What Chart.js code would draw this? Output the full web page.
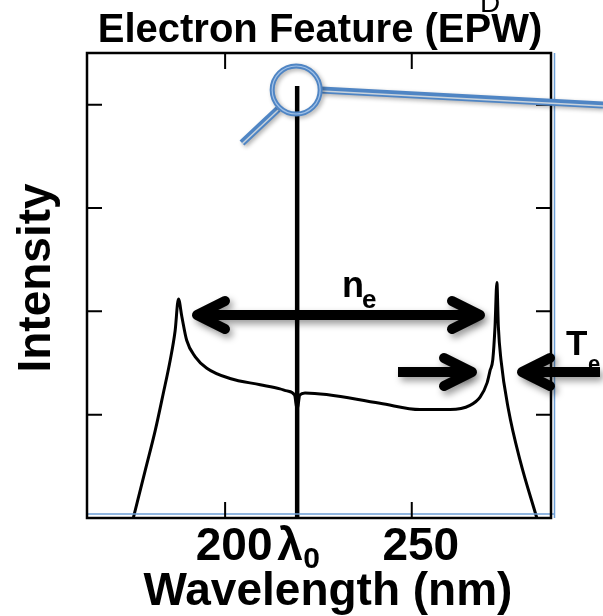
<!DOCTYPE html>
<html>
<head>
<meta charset="utf-8">
<script src="https://cdn.jsdelivr.net/npm/chart.js@4"></script>
<style>
  body { margin: 0; background: #fff; }
  canvas { display: block; }
</style>
</head>
<body>
<canvas id="epwChart" width="603" height="616"></canvas>
<script>
// spectrum (nm, arbitrary intensity)
const curveWavelength = [175.4, 178.6, 181.3, 183.4, 185.3, 186.6, 187.5, 188.4, 189.7, 192.0,
    195.1, 201.3, 209.4, 214.7, 216.6, 218.6, 219.3, 220.0, 221.4, 241.5,
    252.2, 260.3, 265.6, 268.3, 270.2, 271.0, 271.7, 272.3, 272.8, 273.2,
    273.9, 275.9, 279.0, 283.5];
const curveIntensity = [0, 0.46, 0.85, 1.20, 1.53, 1.81, 2.12, 1.95, 1.72, 1.56,
    1.45, 1.35, 1.29, 1.25, 1.23, 1.19, 1.05, 1.19, 1.21, 1.11,
    1.05, 1.05, 1.09, 1.17, 1.31, 1.43, 1.53, 1.85, 2.28, 1.85,
    1.53, 1.05, 0.56, 0];

// laser line at lambda0
const laserWavelength = [219.3, 219.3];
const laserIntensity = [0, 4.18];

const xTickValues = [200, 250];
const yTickValues = [1, 2, 3, 4];

const FONT = '"Liberation Sans", Arial, sans-serif';
const BLUE = '#4f85c4';

function toPoints(xs, ys) {
    return xs.map((x, i) => ({ x: x, y: ys[i] }));
}

function drawArrowHead(ctx, tipX, y, dir) {
    // dir = -1 points left, +1 points right
    ctx.beginPath();
    ctx.moveTo(tipX - dir * 28, y - 14);
    ctx.lineTo(tipX, y);
    ctx.lineTo(tipX - dir * 28, y + 14);
    ctx.stroke();
}

function drawArrow(ctx, x1, x2, y, heads) {
    ctx.save();
    ctx.shadowColor = 'rgba(0,0,0,0.4)';
    ctx.shadowBlur = 7;
    ctx.shadowOffsetX = 3;
    ctx.shadowOffsetY = 4;
    ctx.strokeStyle = '#000';
    ctx.lineWidth = 10;
    ctx.lineJoin = 'round';
    ctx.lineCap = 'butt';
    ctx.beginPath();
    ctx.moveTo(x1 + (heads.left ? 4 : 0), y);
    ctx.lineTo(x2 - (heads.right ? 4 : 0), y);
    ctx.stroke();
    ctx.lineCap = 'round';
    if (heads.left) drawArrowHead(ctx, x1, y, -1);
    if (heads.right) drawArrowHead(ctx, x2, y, 1);
    ctx.restore();
}

function blueStroke(ctx, pts, width) {
    ctx.save();
    ctx.shadowColor = 'rgba(0,0,0,0.3)';
    ctx.shadowBlur = 4;
    ctx.shadowOffsetX = 2;
    ctx.shadowOffsetY = 2;
    ctx.strokeStyle = BLUE;
    ctx.lineWidth = width;
    ctx.lineCap = 'butt';
    ctx.beginPath();
    ctx.moveTo(pts[0], pts[1]);
    ctx.lineTo(pts[2], pts[3]);
    ctx.stroke();
    ctx.restore();
    ctx.save();
    ctx.strokeStyle = '#c9d3dc';
    ctx.lineWidth = 1.5;
    ctx.beginPath();
    ctx.moveTo(pts[0], pts[1] + 1);
    ctx.lineTo(pts[2], pts[3] + 1);
    ctx.stroke();
    ctx.restore();
}

const decorations = {
    id: 'decorations',
    beforeDraw(chart) {
        const ctx = chart.ctx;
        ctx.save();
        ctx.fillStyle = '#fff';
        ctx.fillRect(0, 0, chart.width, chart.height);
        ctx.restore();
    },
    afterDatasetsDraw(chart) {
        const ctx = chart.ctx;
        const area = chart.chartArea;
        const xs = chart.scales.x;
        const ys = chart.scales.y;

        // thin blue edges behind the frame
        ctx.save();
        ctx.strokeStyle = '#6d9fd6';
        ctx.lineWidth = 1.5;
        ctx.beginPath();
        ctx.moveTo(area.right + 3.5, area.top);
        ctx.lineTo(area.right + 3.5, area.bottom);
        ctx.moveTo(area.left, area.bottom - 4);
        ctx.lineTo(area.right + 3.5, area.bottom - 4);
        ctx.stroke();
        ctx.restore();

        // frame + inward ticks
        ctx.save();
        ctx.strokeStyle = '#000';
        ctx.lineWidth = 2.5;
        ctx.strokeRect(area.left, area.top, area.right - area.left, area.bottom - area.top);
        ctx.lineWidth = 2;
        ctx.beginPath();
        xTickValues.forEach(v => {
            const px = xs.getPixelForValue(v);
            ctx.moveTo(px, area.top);
            ctx.lineTo(px, area.top + 16);
            ctx.moveTo(px, area.bottom);
            ctx.lineTo(px, area.bottom - 16);
        });
        yTickValues.forEach(v => {
            const py = ys.getPixelForValue(v);
            ctx.moveTo(area.left, py);
            ctx.lineTo(area.left + 15, py);
            ctx.moveTo(area.right, py);
            ctx.lineTo(area.right - 15, py);
        });
        ctx.stroke();
        ctx.restore();

        ctx.save();
        ctx.fillStyle = '#000';

        // tick labels
        ctx.font = 'bold 46px ' + FONT;
        ctx.textAlign = 'center';
        ctx.textBaseline = 'alphabetic';
        xTickValues.forEach(v => {
            ctx.fillText(String(v), xs.getPixelForValue(v) + 9, 560);
        });
        const l0 = xs.getPixelForValue(laserWavelength[0]);
        ctx.textAlign = 'left';
        ctx.fillText('λ', l0 - 20, 560);
        ctx.font = 'bold 30px ' + FONT;
        ctx.fillText('0', l0 + 6, 568);

        // axis titles
        ctx.font = 'bold 46px ' + FONT;
        ctx.textAlign = 'center';
        ctx.fillText('Wavelength (nm)', 328, 605);
        ctx.save();
        ctx.translate(50, 278);
        ctx.rotate(-Math.PI / 2);
        ctx.fillText('Intensity', 0, 0);
        ctx.restore();

        // title
        ctx.font = 'bold 40px ' + FONT;
        ctx.fillText('Electron Feature (EPW)', 320, 42);
        ctx.font = '28px ' + FONT;
        ctx.textAlign = 'left';
        ctx.fillText('D', 480, 12);

        // annotation labels
        ctx.font = 'bold 36px ' + FONT;
        ctx.fillText('n', 342, 297);
        ctx.font = 'bold 26px ' + FONT;
        ctx.fillText('e', 362, 308);
        ctx.font = 'bold 35px ' + FONT;
        ctx.fillText('T', 566, 355);
        ctx.font = 'bold 22px ' + FONT;
        ctx.fillText('e', 588, 371);
        ctx.restore();

        // arrows
        drawArrow(ctx, 197, 480, 315, { left: true, right: true });
        drawArrow(ctx, 398, 472, 372, { left: false, right: true });
        drawArrow(ctx, 522, 600, 372, { left: true, right: false });

        // magnifier on the laser peak
        const cx = l0 - 1, cy = 90, r = 24;
        blueStroke(ctx, [cx + r + 1, cy, 603, 105], 7);
        blueStroke(ctx, [cx - 18, cy + 19, 242, 143], 7);
        ctx.save();
        ctx.shadowColor = 'rgba(0,0,0,0.3)';
        ctx.shadowBlur = 4;
        ctx.shadowOffsetX = 2;
        ctx.shadowOffsetY = 2;
        ctx.strokeStyle = BLUE;
        ctx.lineWidth = 5;
        ctx.beginPath();
        ctx.arc(cx, cy, r, 0, Math.PI * 2);
        ctx.stroke();
        ctx.restore();
        ctx.save();
        ctx.strokeStyle = 'rgba(170,200,235,0.9)';
        ctx.lineWidth = 1.2;
        ctx.beginPath();
        ctx.arc(cx, cy, r, 0, Math.PI * 2);
        ctx.stroke();
        ctx.restore();
    }
};

new Chart(document.getElementById('epwChart'), {
    type: 'scatter',
    data: {
        datasets: [
            {
                label: 'EPW spectrum',
                data: toPoints(curveWavelength, curveIntensity),
                showLine: true,
                borderColor: '#000',
                borderWidth: 3,
                pointRadius: 0,
                cubicInterpolationMode: 'monotone'
            },
            {
                label: 'Laser',
                data: toPoints(laserWavelength, laserIntensity),
                showLine: true,
                borderColor: '#000',
                borderWidth: 4.5,
                pointRadius: 0
            }
        ]
    },
    options: {
        responsive: false,
        animation: false,
        layout: { padding: { left: 87, right: 52, top: 53, bottom: 98 } },
        plugins: {
            legend: { display: false },
            tooltip: { enabled: false }
        },
        scales: {
            x: { type: 'linear', min: 163, max: 287.3, display: false },
            y: { min: 0, max: 4.5, display: false }
        }
    },
    plugins: [decorations]
});
</script>
</body>
</html>
